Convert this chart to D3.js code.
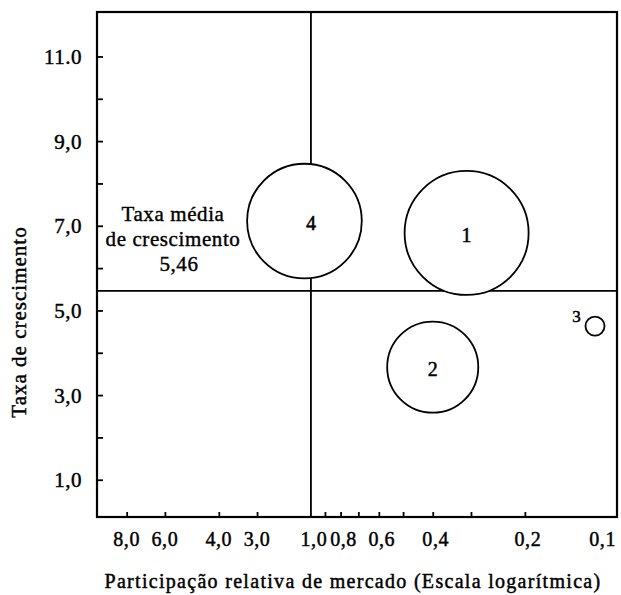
<!DOCTYPE html>
<html>
<head>
<meta charset="utf-8">
<script src="https://cdn.jsdelivr.net/npm/d3@7"></script>
<style>
  html, body { margin: 0; padding: 0; background: #fff; }
  svg { display: block; }
  text { font-family: "Liberation Serif", "DejaVu Serif", serif; fill: #000; }
</style>
</head>
<body>
<svg id="chart" width="621" height="595"></svg>
<script>
// ---- data ----
const units = ["1", "2", "3", "4"];
const share = [0.31, 0.40, 0.118, 1.05];       // participação relativa de mercado
const growth = [6.83, 3.66, 4.63, 7.11];       // taxa de crescimento (%)
const size = [38, 20.5, 0.9, 32.5];            // volume (área da bolha)
const avgGrowth = 5.46;
const avgLabel = ["Taxa média", "de crescimento", "5,46"];
const yTicks = [1, 2, 3, 4, 5, 6, 7, 8, 9, 10, 11];
const yTickLabels = ["1,0", "", "3,0", "", "5,0", "", "7,0", "", "9,0", "", "11.0"];
const xTicksRight = [1.0, 0.9, 0.8, 0.7, 0.6, 0.5, 0.4, 0.3, 0.2, 0.1];
const xTickLabelsRight = ["1,0", "", "0,8", "", "0,6", "", "0,4", "", "0,2", "0,1"];
const xTicksLeft = [8, 6, 4, 3];
const xTickLabelsLeft = ["8,0", "6,0", "4,0", "3,0"];
const xTitle = "Participação relativa de mercado (Escala logarítmica)";
const yTitle = "Taxa de crescimento";

// ---- layout ----
const svg = d3.select("#chart");
const L = 97, R = 617, T = 12, B = 517;

const x = d3.scaleLog().domain([5, 0.1]).range([L, R]);
const xLeft = d3.scaleLog().domain([10, 2]).range([L, x(1)]);
const y = d3.scaleLinear().domain([0.12, 12.05]).range([B, T]);
const r = d3.scaleSqrt().domain([0, d3.max(size)]).range([0, 62]);

// reference lines
svg.append("line")
  .attr("x1", x(1)).attr("x2", x(1)).attr("y1", T).attr("y2", B)
  .attr("stroke", "#000").attr("stroke-width", 1.8);
svg.append("line")
  .attr("x1", L).attr("x2", R).attr("y1", y(avgGrowth)).attr("y2", y(avgGrowth))
  .attr("stroke", "#000").attr("stroke-width", 1.8);

// y axis ticks (inward)
const yAxis = d3.axisRight(y).tickValues(yTicks).tickSize(6).tickFormat("");
svg.append("g").attr("transform", `translate(${L},0)`).call(yAxis)
  .call(g => g.select(".domain").remove())
  .call(g => g.selectAll("line").attr("stroke", "#000").attr("stroke-width", 1.8));
svg.append("g").selectAll("text").data(yTicks).join("text")
  .attr("x", 82).attr("y", d => y(d)).attr("dy", "0.36em")
  .attr("text-anchor", "end")
  .style("font-size", "21px").style("letter-spacing", "0.5px")
  .attr("stroke", "#000").attr("stroke-width", 0.45)
  .text((d, i) => yTickLabels[i]);

// x axis ticks (inward)
const xAxisR = d3.axisTop(x).tickValues(xTicksRight.filter(v => v !== 1 && v !== 0.1)).tickSize(5).tickFormat("");
svg.append("g").attr("transform", `translate(0,${B})`).call(xAxisR)
  .call(g => g.select(".domain").remove())
  .call(g => g.selectAll("line").attr("stroke", "#000").attr("stroke-width", 1.8));
const xAxisL = d3.axisTop(xLeft).tickValues(xTicksLeft).tickSize(5).tickFormat("");
svg.append("g").attr("transform", `translate(0,${B})`).call(xAxisL)
  .call(g => g.select(".domain").remove())
  .call(g => g.selectAll("line").attr("stroke", "#000").attr("stroke-width", 1.8));

const tickLabelStyle = sel => sel
  .style("font-size", "20px").style("letter-spacing", "0.6px")
  .attr("stroke", "#000").attr("stroke-width", 0.45);
svg.append("g").selectAll("text").data(xTicksLeft).join("text")
  .attr("x", d => xLeft(d)).attr("y", 546).attr("text-anchor", "middle")
  .call(tickLabelStyle)
  .text((d, i) => xTickLabelsLeft[i]);
svg.append("g").selectAll("text").data(xTicksRight).join("text")
  .attr("x", d => d === 0.1 ? x(d) - 1 : x(d) + 3).attr("y", 546)
  .attr("text-anchor", d => d === 0.1 ? "end" : "middle")
  .call(tickLabelStyle)
  .text((d, i) => xTickLabelsRight[i]);

// frame
svg.append("rect")
  .attr("x", L).attr("y", T).attr("width", R - L).attr("height", B - T)
  .attr("fill", "none").attr("stroke", "#000").attr("stroke-width", 2.2);

// bubbles
const data = units.map((u, i) => ({ u, sx: share[i], gy: growth[i], s: size[i] }));
svg.append("g").selectAll("circle").data(data).join("circle")
  .attr("cx", d => x(d.sx)).attr("cy", d => y(d.gy)).attr("r", d => r(d.s))
  .attr("fill", "#fff").attr("stroke", "#000").attr("stroke-width", 1.8);

svg.append("g").selectAll("text").data(data).join("text")
  .attr("x", d => d.u === "3" ? x(d.sx) - r(d.s) - 9 : (d.u === "4" ? x(1) : x(d.sx)))
  .attr("y", d => d.u === "3" ? y(d.gy) - 10 : y(d.gy) + 2)
  .attr("dy", "0.36em").attr("text-anchor", "middle")
  .style("font-size", d => d.u === "3" ? "17px" : "20px")
  .attr("stroke", "#000").attr("stroke-width", 0.5)
  .text(d => d.u);

// average growth label
const avgLines = [221, 246, 271];
svg.append("g").selectAll("text").data(avgLabel).join("text")
  .attr("x", (d, i) => i === 2 ? 179 : 173).attr("y", (d, i) => avgLines[i])
  .attr("text-anchor", "middle")
  .style("font-size", "21px").style("letter-spacing", "0.6px")
  .attr("stroke", "#000").attr("stroke-width", 0.4)
  .text(d => d);

// axis titles
svg.append("text")
  .attr("x", 353).attr("y", 588).attr("text-anchor", "middle")
  .style("font-size", "20px").style("letter-spacing", "1.3px")
  .attr("stroke", "#000").attr("stroke-width", 0.45)
  .text(xTitle);
svg.append("text")
  .attr("transform", "translate(26,322) rotate(-90)")
  .attr("text-anchor", "middle")
  .style("font-size", "21px").style("letter-spacing", "1px")
  .attr("stroke", "#000").attr("stroke-width", 0.45)
  .text(yTitle);
</script>
</body>
</html>
